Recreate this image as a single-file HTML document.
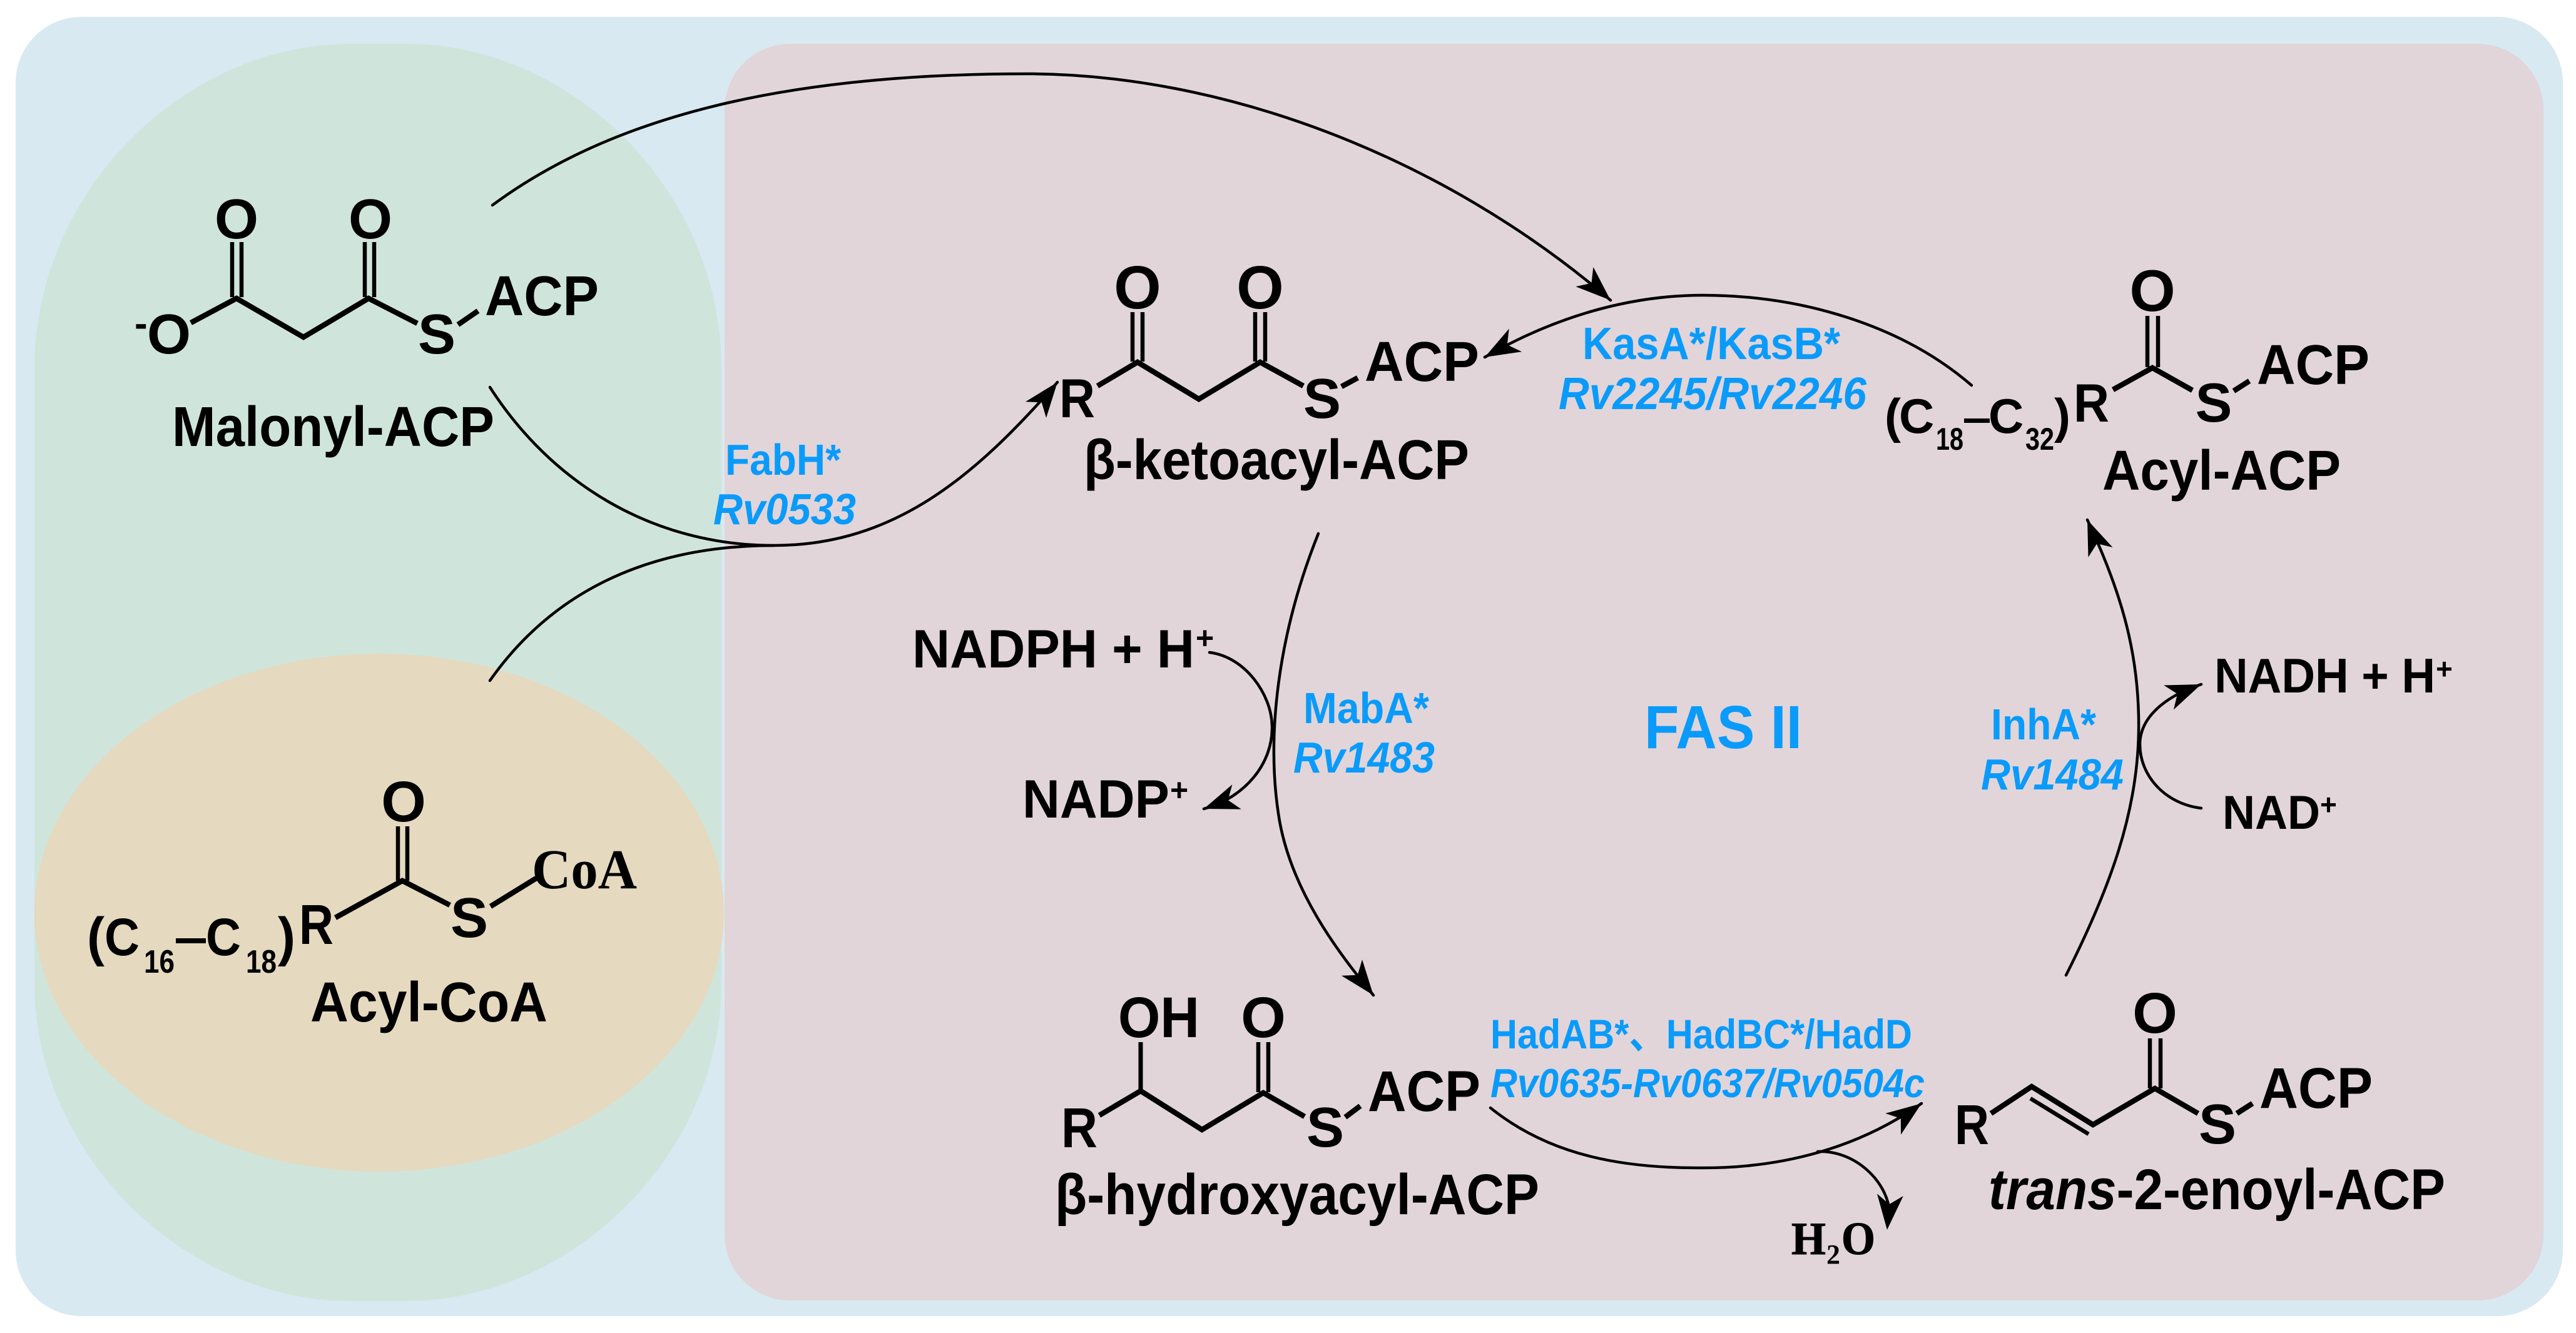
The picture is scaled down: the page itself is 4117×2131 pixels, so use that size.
<!DOCTYPE html>
<html>
<head>
<meta charset="utf-8">
<style>
html,body{margin:0;padding:0;background:#fff;width:4117px;height:2131px;overflow:hidden}
svg{display:block}
text{font-family:"Liberation Sans","Noto Sans CJK SC",sans-serif;font-weight:bold;fill:#000}
.b text{fill:#0a9bfa}
.s text{font-family:"Liberation Serif",serif}
.c{fill:none;stroke:#000;stroke-width:4.5;stroke-linecap:round}
.m{fill:none;stroke:#000;stroke-width:8.5;stroke-linecap:butt;stroke-linejoin:miter}
.d{fill:none;stroke:#000;stroke-width:6.5}
</style>
</head>
<body>
<svg width="4117" height="2131" viewBox="0 0 4117 2131" xmlns="http://www.w3.org/2000/svg">
<defs><polygon id="a" points="0,0 -56,-21 -41,0 -56,21" fill="#000"/></defs>
<rect width="4117" height="2131" fill="#fff"/>
<rect x="25" y="27" width="4071" height="2077" rx="105" ry="105" fill="#d8e9f1"/>
<path d="M55,590 C55,300 300,70 560,70 L650,70 C910,70 1153,300 1153,590 L1153,1570 C1153,1850 910,2080 650,2080 L560,2080 C300,2080 55,1850 55,1570 Z" fill="#cfe5dc"/>
<rect x="1158" y="70" width="2907" height="2009" rx="105" ry="105" fill="#e1d5da"/>
<ellipse cx="606" cy="1459" rx="551" ry="414" fill="#e5d9bf"/>

<!-- curved connectors -->
<path class="c" d="M787,328 C1000,170 1300,118 1640,118 C1950,118 2300,245 2574,480"/>
<use href="#a" transform="translate(2574,480) rotate(42)"/>
<path class="c" d="M783,619 C880,770 1040,872 1237,872 C1430,872 1560,760 1690,611"/>
<use href="#a" transform="translate(1690,611) rotate(-52)"/>
<path class="c" d="M783,1088 C880,950 1030,872 1237,872"/>
<path class="c" d="M3151,616 C3040,520 2880,472 2721,472 C2590,472 2470,515 2373,571"/>
<use href="#a" transform="translate(2373,571) rotate(151)"/>
<path class="c" d="M2107,853 C2040,1020 2025,1180 2043,1300 C2060,1420 2140,1525 2195,1591"/>
<use href="#a" transform="translate(2195,1591) rotate(52)"/>
<path class="c" d="M1933,1043 C1990,1050 2032,1110 2033,1160 C2035,1220 1990,1275 1924,1293"/>
<use href="#a" transform="translate(1924,1293) rotate(160)"/>
<path class="c" d="M3302,1559 C3372,1420 3416,1300 3418,1170 C3420,1050 3392,950 3336,831"/>
<use href="#a" transform="translate(3336,831) rotate(-112)"/>
<path class="c" d="M3518,1292 C3460,1285 3420,1240 3420,1190 C3420,1150 3455,1115 3518,1094"/>
<use href="#a" transform="translate(3518,1094) rotate(-22)"/>
<path class="c" d="M2382,1771 C2480,1850 2600,1868 2723,1867 C2850,1867 2970,1835 3071,1764"/>
<use href="#a" transform="translate(3071,1764) rotate(-36)"/>
<path class="c" d="M2905,1841 C2965,1838 3018,1890 3020,1940"/>
<use href="#a" transform="translate(3016,1966) rotate(95)"/>

<!-- Malonyl-ACP -->
<polyline class="m" points="305,516 378,477 485,539 589,477 667,517"/>
<line class="m" x1="732" y1="519" x2="764" y2="497"/>
<line class="d" x1="371" y1="387" x2="371" y2="475"/><line class="d" x1="386" y1="387" x2="386" y2="475"/>
<line class="d" x1="583" y1="387" x2="583" y2="475"/><line class="d" x1="598" y1="387" x2="598" y2="475"/>
<text x="378" y="381" font-size="90" text-anchor="middle">O</text>
<text x="592" y="381" font-size="90" text-anchor="middle">O</text>
<text x="270" y="565" font-size="90" text-anchor="middle">O</text>
<text x="215" y="538" font-size="62">-</text>
<text x="698" y="565" font-size="90" text-anchor="middle">S</text>
<text x="775" y="504" font-size="90" textLength="182" lengthAdjust="spacingAndGlyphs">ACP</text>
<text x="275" y="713" font-size="90" textLength="515" lengthAdjust="spacingAndGlyphs">Malonyl-ACP</text>

<!-- Acyl-CoA -->
<polyline class="m" points="536,1467 643,1408 719,1447"/>
<line class="m" x1="784" y1="1449" x2="857" y2="1404"/>
<line class="d" x1="636" y1="1321" x2="636" y2="1408"/><line class="d" x1="651" y1="1321" x2="651" y2="1408"/>
<text x="645" y="1313" font-size="92" text-anchor="middle">O</text>
<text x="750" y="1498" font-size="90" text-anchor="middle">S</text>
<g class="s"><text x="850" y="1420" font-size="90" textLength="168" lengthAdjust="spacingAndGlyphs">CoA</text></g>
<text x="478" y="1509" font-size="90" textLength="55" lengthAdjust="spacingAndGlyphs">R</text>
<text x="139" y="1527" font-size="86" textLength="28" lengthAdjust="spacingAndGlyphs">(</text>
<text x="167" y="1527" font-size="84" textLength="56" lengthAdjust="spacingAndGlyphs">C</text>
<text x="230" y="1555" font-size="52" textLength="49" lengthAdjust="spacingAndGlyphs">16</text>
<rect x="281" y="1500" width="48" height="8" fill="#000"/>
<text x="329" y="1527" font-size="84" textLength="56" lengthAdjust="spacingAndGlyphs">C</text>
<text x="393" y="1555" font-size="52" textLength="49" lengthAdjust="spacingAndGlyphs">18</text>
<text x="444" y="1527" font-size="86" textLength="28" lengthAdjust="spacingAndGlyphs">)</text>
<text x="496" y="1633" font-size="90" textLength="379" lengthAdjust="spacingAndGlyphs">Acyl-CoA</text>

<!-- beta-ketoacyl-ACP -->
<polyline class="m" points="1754,617 1818,579 1916,638 2014,579 2083,617"/>
<line class="m" x1="2144" y1="618" x2="2170" y2="604"/>
<line class="d" x1="1810" y1="499" x2="1810" y2="578"/><line class="d" x1="1826" y1="499" x2="1826" y2="578"/>
<line class="d" x1="2006" y1="499" x2="2006" y2="578"/><line class="d" x1="2022" y1="499" x2="2022" y2="578"/>
<text x="1818" y="493" font-size="97" text-anchor="middle">O</text>
<text x="2014" y="493" font-size="97" text-anchor="middle">O</text>
<text x="2113" y="668" font-size="90" text-anchor="middle">S</text>
<text x="1693" y="667" font-size="88" textLength="57" lengthAdjust="spacingAndGlyphs">R</text>
<text x="2181" y="609" font-size="90" textLength="183" lengthAdjust="spacingAndGlyphs">ACP</text>
<text x="1732" y="766" font-size="90" textLength="616" lengthAdjust="spacingAndGlyphs">β-ketoacyl-ACP</text>

<!-- Acyl-ACP -->
<polyline class="m" points="3377,623 3440,588 3504,624"/>
<line class="m" x1="3570" y1="625" x2="3595" y2="609"/>
<line class="d" x1="3432" y1="505" x2="3432" y2="587"/><line class="d" x1="3449" y1="505" x2="3449" y2="587"/>
<text x="3440" y="497" font-size="94" text-anchor="middle">O</text>
<text x="3538" y="674" font-size="88" text-anchor="middle">S</text>
<text x="3314" y="674" font-size="86" textLength="57" lengthAdjust="spacingAndGlyphs">R</text>
<text x="3607" y="614" font-size="90" textLength="180" lengthAdjust="spacingAndGlyphs">ACP</text>
<text x="3012" y="692" font-size="78">(</text>
<text x="3035" y="692" font-size="78">C</text>
<text x="3094" y="719" font-size="50" textLength="44" lengthAdjust="spacingAndGlyphs">18</text>
<rect x="3139" y="669" width="41" height="7" fill="#000"/>
<text x="3178" y="692" font-size="78">C</text>
<text x="3237" y="719" font-size="50" textLength="46" lengthAdjust="spacingAndGlyphs">32</text>
<text x="3283" y="692" font-size="78">)</text>
<text x="3360" y="783" font-size="90" textLength="381" lengthAdjust="spacingAndGlyphs">Acyl-ACP</text>

<!-- beta-hydroxyacyl-ACP -->
<polyline class="m" points="1757,1783 1823,1744 1921,1806 2019,1747 2085,1785"/>
<line class="m" x1="2150" y1="1786" x2="2174" y2="1768"/>
<line class="m" x1="1823" y1="1666" x2="1823" y2="1744" style="stroke-width:7"/>
<line class="d" x1="2011" y1="1666" x2="2011" y2="1746"/><line class="d" x1="2027" y1="1666" x2="2027" y2="1746"/>
<text x="1787" y="1658" font-size="92" textLength="130" lengthAdjust="spacingAndGlyphs">OH</text>
<text x="2019" y="1658" font-size="92" text-anchor="middle">O</text>
<text x="2118" y="1833" font-size="90" text-anchor="middle">S</text>
<text x="1696" y="1834" font-size="90" textLength="58" lengthAdjust="spacingAndGlyphs">R</text>
<text x="2186" y="1776" font-size="92" textLength="180" lengthAdjust="spacingAndGlyphs">ACP</text>
<text x="1686" y="1941" font-size="92" textLength="774" lengthAdjust="spacingAndGlyphs">β-hydroxyacyl-ACP</text>

<!-- trans-2-enoyl-ACP -->
<polyline class="m" points="3182,1780 3247,1737 3345,1798 3444,1740 3513,1780"/>
<line class="d" x1="3245" y1="1756" x2="3338" y2="1813"/>
<line class="m" x1="3575" y1="1780" x2="3600" y2="1764"/>
<line class="d" x1="3436" y1="1660" x2="3436" y2="1740"/><line class="d" x1="3453" y1="1660" x2="3453" y2="1740"/>
<text x="3444" y="1651" font-size="92" text-anchor="middle">O</text>
<text x="3544" y="1828" font-size="90" text-anchor="middle">S</text>
<text x="3124" y="1829" font-size="90" textLength="55" lengthAdjust="spacingAndGlyphs">R</text>
<text x="3611" y="1771" font-size="92" textLength="181" lengthAdjust="spacingAndGlyphs">ACP</text>
<text x="3178" y="1933" font-size="92" textLength="730" lengthAdjust="spacingAndGlyphs"><tspan font-style="italic">trans</tspan>-2-enoyl-ACP</text>

<!-- cofactors -->
<text x="1458" y="1067" font-size="86" textLength="451" lengthAdjust="spacingAndGlyphs">NADPH + H</text>
<text x="1911" y="1037" font-size="50">+</text>
<text x="1634" y="1307" font-size="86" textLength="235" lengthAdjust="spacingAndGlyphs">NADP</text>
<text x="1870" y="1280" font-size="50">+</text>
<text x="3539" y="1107" font-size="78" textLength="353" lengthAdjust="spacingAndGlyphs">NADH + H</text>
<text x="3893" y="1085" font-size="46">+</text>
<text x="3552" y="1325" font-size="76" textLength="156" lengthAdjust="spacingAndGlyphs">NAD</text>
<text x="3708" y="1302" font-size="46">+</text>
<g class="s"><text x="2863" y="2005" font-size="74" textLength="55" lengthAdjust="spacingAndGlyphs" stroke="#000" stroke-width="1">H</text>
<text x="2919" y="2020" font-size="44">2</text>
<text x="2943" y="2005" font-size="74" textLength="54" lengthAdjust="spacingAndGlyphs" stroke="#000" stroke-width="1">O</text></g>

<!-- blue labels -->
<g class="b">
<text x="1159" y="759" font-size="70" textLength="185" lengthAdjust="spacingAndGlyphs">FabH*</text>
<text x="1140" y="838" font-size="70" font-style="italic" textLength="228" lengthAdjust="spacingAndGlyphs">Rv0533</text>
<text x="2529" y="574" font-size="72" textLength="412" lengthAdjust="spacingAndGlyphs">KasA*/KasB*</text>
<text x="2491" y="654" font-size="72" font-style="italic" textLength="492" lengthAdjust="spacingAndGlyphs">Rv2245/Rv2246</text>
<text x="2083" y="1156" font-size="70" textLength="201" lengthAdjust="spacingAndGlyphs">MabA*</text>
<text x="2067" y="1235" font-size="70" font-style="italic" textLength="226" lengthAdjust="spacingAndGlyphs">Rv1483</text>
<text x="2628" y="1196" font-size="97" textLength="252" lengthAdjust="spacingAndGlyphs">FAS II</text>
<text x="3182" y="1182" font-size="70" textLength="168" lengthAdjust="spacingAndGlyphs">InhA*</text>
<text x="3166" y="1262" font-size="70" font-style="italic" textLength="228" lengthAdjust="spacingAndGlyphs">Rv1484</text>
<text x="2382" y="1676" font-size="66" textLength="674" lengthAdjust="spacingAndGlyphs">HadAB*、HadBC*/HadD</text>
<text x="2382" y="1754" font-size="65" font-style="italic" textLength="694" lengthAdjust="spacingAndGlyphs">Rv0635-Rv0637/Rv0504c</text>
</g>
</svg>
</body>
</html>
